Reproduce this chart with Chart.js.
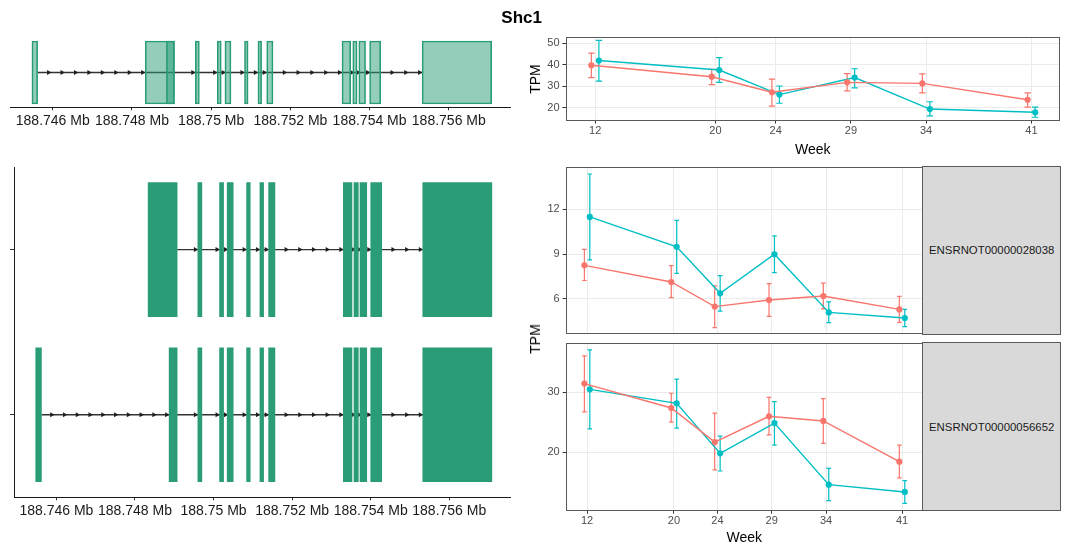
<!DOCTYPE html>
<html>
<head>
<meta charset="utf-8">
<script src="https://cdn.jsdelivr.net/npm/chart.js@4.4.1/dist/chart.umd.min.js"></script>
<style>
  html, body { margin: 0; padding: 0; background: #ffffff; }
  #wrap { position: relative; width: 1067px; height: 543px; overflow: hidden;
          font-family: "Liberation Sans", Arial, Helvetica, sans-serif; }
  #wrap canvas { position: absolute; left: 0; top: 0; }
  .txt { position: absolute; white-space: nowrap; color: #000; line-height: 1; }
  .center { transform: translate(-50%, -50%); }
  .rot { transform: translate(-50%, -50%) rotate(-90deg); }
  .strip { position: absolute; box-sizing: border-box; background: #D9D9D9;
           border: 1px solid #5a5a5a; display: flex; align-items: center; justify-content: center;
           font-size: 11.4px; color: #1A1A1A; }
</style>
</head>
<body>
<div id="wrap">
  <canvas id="cGeneTop" width="1067" height="543"></canvas>
  <canvas id="cGeneTx" width="1067" height="543"></canvas>
  <canvas id="cTrendTop" width="1067" height="543"></canvas>
  <canvas id="cTrendF1" width="1067" height="543"></canvas>
  <canvas id="cTrendF2" width="1067" height="543"></canvas>

  <div class="txt center" id="mainTitle" style="left:521.7px; top:16.5px; font-size:17px; font-weight:bold;"></div>
  <div class="txt rot" style="left:535.3px; top:78.6px; font-size:14px;">TPM</div>
  <div class="txt center" style="left:812.7px; top:148.5px; font-size:14px;">Week</div>
  <div class="txt rot" style="left:535.3px; top:338.7px; font-size:14px;">TPM</div>
  <div class="txt center" style="left:744.2px; top:536.5px; font-size:14px;">Week</div>
  <div class="strip" id="strip1" style="left:922.2px; top:166.2px; width:139px; height:168.6px;"></div>
  <div class="strip" id="strip2" style="left:922.2px; top:342.2px; width:139px; height:169px;"></div>
</div>

<script>
// ---------------- DATA ----------------
const geneName = 'Shc1';
const transcriptNames = ['ENSRNOT00000028038', 'ENSRNOT00000056652'];

// genomic x axis
const genomeMin = 188744920;
const genomeMax = 188757546;
const genomeTicks = [188746000, 188748000, 188750000, 188752000, 188754000, 188756000];
const genomeTickLabels = ['188.746 Mb', '188.748 Mb', '188.75 Mb', '188.752 Mb', '188.754 Mb', '188.756 Mb'];

// exons [start, end]
const tx28038Exons = [
  [188748334, 188749073], [188749600, 188749702], [188750153, 188750255], [188750347, 188750500],
  [188750841, 188750933], [188751180, 188751274], [188751402, 188751562], [188753303, 188753524],
  [188753575, 188753685], [188753728, 188753899], [188754001, 188754281], [188755326, 188757084]
];
const tx56652Exons = [
  [188745473, 188745618], [188748869, 188749073], [188749600, 188749702], [188750153, 188750255],
  [188750347, 188750500], [188750841, 188750933], [188751180, 188751274], [188751402, 188751562],
  [188753303, 188753524], [188753575, 188753685], [188753728, 188753899], [188754001, 188754281],
  [188755326, 188757084]
];

// time course
const weeks = [12, 20, 24, 29, 34, 41];

const geneRedMean  = [39.8, 34.5, 27.3, 31.9, 31.4, 23.8];
const geneRedLow   = [34.1, 30.8, 20.9, 27.9, 27.0, 20.4];
const geneRedHigh  = [45.4, 37.9, 33.4, 35.9, 35.8, 27.0];
const geneTealMean = [42.0, 37.6, 26.2, 34.1, 19.5, 18.0];
const geneTealLow  = [32.5, 31.9, 22.2, 29.3, 16.3, 15.7];
const geneTealHigh = [51.4, 43.4, 30.2, 38.2, 22.9, 20.4];
const geneYTicks = [20, 30, 40, 50];

const tx28038RedMean  = [8.24, 7.12, 5.47, 5.91, 6.18, 5.28];
const tx28038RedLow   = [7.22, 6.07, 4.06, 4.81, 5.31, 4.41];
const tx28038RedHigh  = [9.31, 8.22, 6.86, 7.01, 7.05, 6.16];
const tx28038TealMean = [11.49, 9.48, 6.36, 8.98, 5.08, 4.70];
const tx28038TealLow  = [8.61, 7.70, 5.17, 7.75, 4.39, 4.12];
const tx28038TealHigh = [14.37, 11.26, 7.55, 10.21, 5.78, 5.28];
const tx28038YTicks = [6, 9, 12];

const tx56652RedMean  = [31.4, 27.35, 21.7, 25.97, 25.2, 18.45];
const tx56652RedLow   = [26.7, 25.0, 17.1, 22.9, 21.5, 15.75];
const tx56652RedHigh  = [36.0, 29.8, 26.5, 29.1, 28.9, 21.2];
const tx56652TealMean = [30.44, 28.12, 19.83, 24.86, 14.64, 13.43];
const tx56652TealLow  = [23.9, 24.0, 16.9, 21.2, 12.0, 11.55];
const tx56652TealHigh = [37.0, 32.15, 22.7, 28.4, 17.35, 15.3];
const tx56652YTicks = [20, 30];

// ---------------- STYLE / LAYOUT ----------------
const W = 1067, H = 543;
const FONT = '"Liberation Sans", Arial, Helvetica, sans-serif';
const RED = '#F8766D', TEAL = '#00BFC4';
const EXON = '#2A9D78';
const DODGE = 0.25;        // position_dodge half-width (weeks)
const CAP = 0.21;          // error bar cap half-width (weeks)
const WEEK_MIN = 10.03, WEEK_MAX = 42.9;
const ARROW_SPACING_BP = 320;
const ARROW_TIP_BP = 65;

const R_GENE_TOP  = {l: 10,    t: 37.7,  r: 510,   b: 107.3};
const R_GENE_TX   = {l: 14,    t: 167,   r: 510,   b: 497.3};
const R_TREND_TOP = {l: 565.5, t: 36.7,  r: 1060,  b: 120.5};
const R_TREND_F1  = {l: 565.7, t: 166.7, r: 922.7, b: 334.3};
const R_TREND_F2  = {l: 565.7, t: 342.7, r: 922.7, b: 510.7};

Chart.defaults.font.family = FONT;
Chart.defaults.animation = false;
Chart.defaults.plugins.legend.display = false;
Chart.defaults.plugins.tooltip.enabled = false;

document.getElementById('mainTitle').textContent = geneName;
document.getElementById('strip1').textContent = transcriptNames[0];
document.getElementById('strip2').textContent = transcriptNames[1];

function padding(rect, yW, xH) {
  return {left: rect.l - yW, top: rect.t, right: W - rect.r, bottom: H - rect.b - xH};
}

// ---------- gene structure helpers ----------
function mergedIntervals(exons) {
  const s = exons.map(e => [e[0], e[1]]).sort((a, b) => a[0] - b[0]);
  const out = [];
  for (const e of s) {
    const last = out[out.length - 1];
    if (last && e[0] <= last[1]) last[1] = Math.max(last[1], e[1]);
    else out.push(e);
  }
  return out;
}
function introns(exons) {
  const m = mergedIntervals(exons);
  const g = [];
  for (let i = 1; i < m.length; i++) g.push([m[i - 1][1], m[i][0]]);
  return g;
}
function arrowPositions(exons) {
  const out = [];
  for (const [s, e] of introns(exons)) {
    const len = e - s;
    const n = Math.max(1, Math.floor(len / ARROW_SPACING_BP));
    for (let k = 1; k <= n; k++) out.push(s + len * k / n - Math.min(ARROW_TIP_BP, len / 2));
  }
  return out;
}
function intronSpan(exons) {
  const m = mergedIntervals(exons);
  return [m[0][1], m[m.length - 1][0]];
}
function uniqueExons(list) {
  const seen = new Set(), out = [];
  for (const e of list) { const k = e[0] + '-' + e[1]; if (!seen.has(k)) { seen.add(k); out.push(e); } }
  return out.sort((a, b) => a[0] - b[0]);
}

function genomeXScale(fontColor) {
  return {
    type: 'linear', min: genomeMin, max: genomeMax, offset: false, beginAtZero: false,
    afterBuildTicks: s => { s.ticks = genomeTicks.map(v => ({value: v})); },
    ticks: {
      autoSkip: false, maxRotation: 0, minRotation: 0, padding: 2,
      font: {size: 14, family: FONT}, color: fontColor,
      callback: v => genomeTickLabels[genomeTicks.indexOf(v)]
    },
    grid: {offset: false, drawOnChartArea: false, drawTicks: true, tickLength: 3, tickColor: '#333', color: '#333'},
    border: {display: true, color: '#1a1a1a', width: 1},
    afterFit: s => { s.height = 30; }
  };
}

function trackDatasets(exons, yVal, fill, border, bw, thickness) {
  const span = intronSpan(exons);
  return [
    {
      type: 'bar', indexAxis: 'y', order: 0, grouped: false,
      data: exons.map(e => ({x: [e[0], e[1]], y: yVal})),
      backgroundColor: fill, borderColor: border, borderWidth: bw, borderSkipped: false,
      barThickness: thickness
    },
    {
      type: 'line', order: 2,
      data: [{x: span[0], y: yVal}, {x: span[1], y: yVal}],
      borderColor: '#333333', borderWidth: 1.4, pointRadius: 0, fill: false
    },
    {
      type: 'scatter', order: 1,
      data: arrowPositions(exons).map(p => ({x: p, y: yVal})),
      pointStyle: 'triangle', rotation: 90, pointRadius: 2.9,
      backgroundColor: '#1f1f1f', borderColor: '#1f1f1f', borderWidth: 0
    }
  ];
}

// ---------- top-left collapsed gene model ----------
const collapsed = uniqueExons(tx28038Exons.concat(tx56652Exons));
new Chart(document.getElementById('cGeneTop'), {
  type: 'bar',
  data: {datasets: trackDatasets(collapsed, 1, 'rgba(42,157,120,0.5)', EXON, 1, 63)},
  options: {
    responsive: false, devicePixelRatio: 1, indexAxis: 'y',
    layout: {padding: padding(R_GENE_TOP, 0, 30)},
    scales: {
      x: genomeXScale('#1a1a1a'),
      y: {type: 'linear', min: 0.5, max: 1.5, display: false, offset: false, grid: {offset: false}}
    }
  }
});

// ---------- bottom-left transcript models ----------
new Chart(document.getElementById('cGeneTx'), {
  type: 'bar',
  data: {datasets: trackDatasets(tx28038Exons, 2, EXON, EXON, 0, 134)
          .concat(trackDatasets(tx56652Exons, 1, EXON, EXON, 0, 134))},
  options: {
    responsive: false, devicePixelRatio: 1, indexAxis: 'y',
    layout: {padding: padding(R_GENE_TX, 10, 30)},
    scales: {
      x: genomeXScale('#1a1a1a'),
      y: {
        type: 'linear', min: 0.5, max: 2.5, offset: false,
        afterBuildTicks: s => { s.ticks = [{value: 1}, {value: 2}]; },
        ticks: {callback: () => '', padding: 0},
        grid: {offset: false, drawOnChartArea: false, drawTicks: true, tickLength: 4, tickColor: '#333', color: '#333'},
        border: {display: true, color: '#1a1a1a', width: 1},
        afterFit: s => { s.width = 10; }
      }
    }
  }
});

// ---------- trend panels ----------
const errorBarPlugin = {
  id: 'errbars',
  beforeDatasetsDraw(chart) {
    const {ctx} = chart;
    const xs = chart.scales.x, ys = chart.scales.y;
    chart.data.datasets.forEach(ds => {
      if (!ds.errLo) return;
      ctx.save();
      ctx.strokeStyle = ds.borderColor;
      ctx.lineWidth = 1.2;
      weeks.forEach((w, i) => {
        const cx = xs.getPixelForValue(w + ds.dodge);
        const hw = xs.getPixelForValue(w + ds.dodge + CAP) - cx;
        const y1 = ys.getPixelForValue(ds.errLo[i]);
        const y2 = ys.getPixelForValue(ds.errHi[i]);
        ctx.beginPath();
        ctx.moveTo(cx, y1); ctx.lineTo(cx, y2);
        ctx.moveTo(cx - hw, y1); ctx.lineTo(cx + hw, y1);
        ctx.moveTo(cx - hw, y2); ctx.lineTo(cx + hw, y2);
        ctx.stroke();
      });
      ctx.restore();
    });
  }
};
const panelBorderPlugin = {
  id: 'pborder',
  afterDatasetsDraw(chart) {
    const {ctx, chartArea: a} = chart;
    ctx.save();
    ctx.strokeStyle = '#5a5a5a';
    ctx.lineWidth = 1;
    ctx.strokeRect(Math.round(a.left) + 0.5, Math.round(a.top) + 0.5,
                   Math.round(a.right) - Math.round(a.left) - 1, Math.round(a.bottom) - Math.round(a.top) - 1);
    ctx.restore();
  }
};

function seriesDataset(mean, lo, hi, color, dodge) {
  return {
    type: 'line',
    data: weeks.map((w, i) => ({x: w + dodge, y: mean[i]})),
    borderColor: color, backgroundColor: color, borderWidth: 1.4, tension: 0,
    pointRadius: 3.1, pointBorderWidth: 0, pointBackgroundColor: color, pointBorderColor: color,
    errLo: lo, errHi: hi, dodge: dodge, clip: 4
  };
}

function trendChart(id, rect, yMin, yMax, yTicks, series, showX) {
  const xH = showX ? 30 : 0;
  return new Chart(document.getElementById(id), {
    type: 'line',
    data: {datasets: series},
    options: {
      responsive: false, devicePixelRatio: 1,
      layout: {padding: padding(rect, 30, xH)},
      scales: {
        x: {
          type: 'linear', min: WEEK_MIN, max: WEEK_MAX, offset: false,
          afterBuildTicks: s => { s.ticks = weeks.map(v => ({value: v})); },
          ticks: {display: showX, autoSkip: false, maxRotation: 0, padding: 1,
                  font: {size: 11, family: FONT}, color: '#4D4D4D', callback: v => String(v)},
          grid: {color: '#EBEBEB', lineWidth: 1, drawTicks: showX, tickLength: 3, tickColor: '#333'},
          border: {display: false},
          afterFit: s => { s.height = xH; }
        },
        y: {
          type: 'linear', min: yMin, max: yMax,
          afterBuildTicks: s => { s.ticks = yTicks.map(v => ({value: v})); },
          ticks: {autoSkip: false, padding: 3, font: {size: 11, family: FONT}, color: '#4D4D4D',
                  callback: v => String(v)},
          grid: {color: '#EBEBEB', lineWidth: 1, drawTicks: true, tickLength: 3, tickColor: '#333'},
          border: {display: false},
          afterFit: s => { s.width = 30; }
        }
      }
    },
    plugins: [errorBarPlugin, panelBorderPlugin]
  });
}

trendChart('cTrendTop', R_TREND_TOP, 14.2, 53.06, geneYTicks, [
  seriesDataset(geneRedMean, geneRedLow, geneRedHigh, RED, -DODGE),
  seriesDataset(geneTealMean, geneTealLow, geneTealHigh, TEAL, DODGE)
], true);

trendChart('cTrendF1', R_TREND_F1, 3.61, 14.86, tx28038YTicks, [
  seriesDataset(tx28038RedMean, tx28038RedLow, tx28038RedHigh, RED, -DODGE),
  seriesDataset(tx28038TealMean, tx28038TealLow, tx28038TealHigh, TEAL, DODGE)
], false);

trendChart('cTrendF2', R_TREND_F2, 10.32, 38.18, tx56652YTicks, [
  seriesDataset(tx56652RedMean, tx56652RedLow, tx56652RedHigh, RED, -DODGE),
  seriesDataset(tx56652TealMean, tx56652TealLow, tx56652TealHigh, TEAL, DODGE)
], true);
</script>
</body>
</html>
